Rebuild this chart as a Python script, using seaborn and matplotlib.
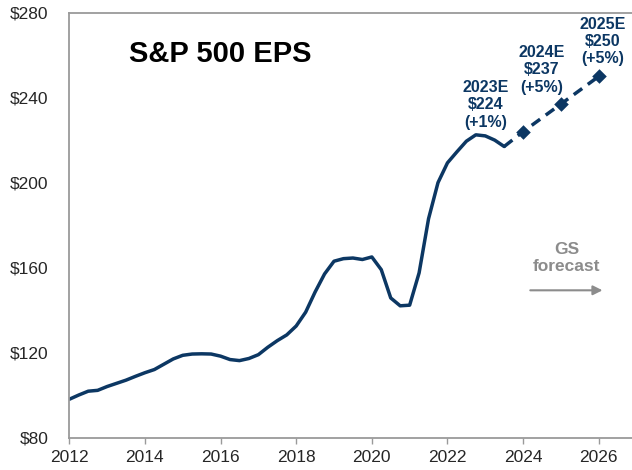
import numpy as np
import matplotlib
matplotlib.use('Agg')
import matplotlib.pyplot as plt
import pandas as pd
import seaborn as sns

# trailing S&P 500 EPS, quarterly
quarters = [2012.0, 2012.25, 2012.5, 2012.75, 2013.0, 2013.25, 2013.5, 2013.75,
            2014.0, 2014.25, 2014.5, 2014.75, 2015.0, 2015.25, 2015.5, 2015.75,
            2016.0, 2016.25, 2016.5, 2016.75, 2017.0, 2017.25, 2017.5, 2017.75,
            2018.0, 2018.25, 2018.5, 2018.75, 2019.0, 2019.25, 2019.5, 2019.75,
            2020.0, 2020.25, 2020.5, 2020.75, 2021.0, 2021.25, 2021.5, 2021.75,
            2022.0, 2022.25, 2022.5, 2022.75, 2023.0, 2023.25, 2023.5]
eps_actual = [98, 100, 101.8, 102.2, 104, 105.5, 107, 108.8,
              110.5, 112, 114.5, 117, 118.7, 119.3, 119.4, 119.3,
              118.3, 116.7, 116.2, 117.2, 119, 122.5, 125.6, 128.3,
              132.5, 139, 148.5, 157, 163, 164.2, 164.5, 163.8,
              165, 159, 145.7, 142, 142.3, 157.5, 183, 200,
              209.3, 214.5, 219.5, 222.5, 222, 220, 217]

forecast_years = [2024, 2025, 2026]
forecast_eps = [224, 237, 250]
forecast_labels = ['2023E\n$224\n(+1%)', '2024E\n$237\n(+5%)', '2025E\n$250\n(+5%)']
label_pos = [(2023.02, 236.7), (2024.48, 253.2), (2026.1, 266.4)]

navy = '#0c3763'
grey_axis = '#9a9a9a'
grey_text = '#8c8c8c'

sns.set_style('white')
plt.rcParams['font.family'] = ['Liberation Sans', 'DejaVu Sans']

actual_df = pd.DataFrame({'year': quarters, 'eps': eps_actual})
fc_df = pd.DataFrame({'year': [quarters[-1]] + forecast_years,
                      'eps': [eps_actual[-1]] + forecast_eps})
mk_df = pd.DataFrame({'year': forecast_years, 'eps': forecast_eps})

fig = plt.figure(figsize=(6.32, 4.70), dpi=100)
ax = fig.add_axes([69.3 / 632, 1 - 437.5 / 470, 1 - 69.3 / 632, (437.5 - 12.7) / 470])

sns.lineplot(data=actual_df, x='year', y='eps', color=navy, linewidth=2.5, ax=ax)
sns.lineplot(data=fc_df, x='year', y='eps', color=navy, linewidth=2.5, ax=ax,
             linestyle=(0, (3.0, 2.0)))
sns.scatterplot(data=mk_df, x='year', y='eps', color=navy, marker='D', s=55,
                edgecolor=navy, linewidth=0, ax=ax, zorder=5)

for lab, (lx, ly) in zip(forecast_labels, label_pos):
    ax.text(lx, ly, lab, ha='center', va='center', fontsize=11.5, fontweight='bold',
            color=navy, linespacing=1.2)

ax.text(2016.0, 260.5, 'S&P 500 EPS', ha='center', va='center', fontsize=21,
        fontweight='bold', color='black')

ax.text(2025.15, 164.5, 'GS\nforecast', ha='center', va='center', fontsize=12.5,
        fontweight='bold', color=grey_text, linespacing=1.15)
ax.annotate('', xy=(2026.1, 149.3), xytext=(2024.19, 149.3),
            arrowprops=dict(arrowstyle='-|>', color=grey_text, lw=1.5,
                            mutation_scale=14, shrinkA=0, shrinkB=0))

ax.set_xlim(2012, 2026.88)
ax.set_ylim(80, 280)
ax.set_xticks(np.arange(2012, 2027, 2))
ax.set_yticks(np.arange(80, 281, 40))
ax.set_yticklabels(['$%d' % v for v in np.arange(80, 281, 40)])
ax.set_xlabel('')
ax.set_ylabel('')

ax.tick_params(axis='x', length=4, width=1, color=grey_axis, labelsize=12.5, pad=5, direction='out')
ax.tick_params(axis='y', length=0, labelsize=12.5, pad=15)
for side in ['left', 'bottom', 'top']:
    ax.spines[side].set_color(grey_axis)
    ax.spines[side].set_linewidth(1.3)
ax.spines['right'].set_visible(False)
ax.xaxis.set_ticks_position('bottom')

fig.savefig('out.png', dpi=100)
